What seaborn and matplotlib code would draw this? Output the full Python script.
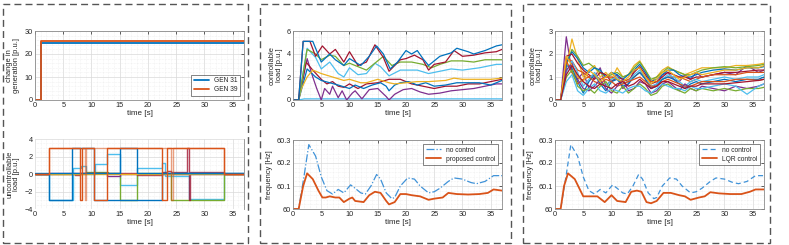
import matplotlib
matplotlib.use("Agg")
import matplotlib.pyplot as plt
import seaborn as sns
from matplotlib.patches import Rectangle

# MATLAB default line colours
BLUE = "#0072BD"
ORANGE = "#D95319"
YELLOW = "#EDB120"
PURPLE = "#7E2F8E"
GREEN = "#77AC30"
LBLUE = "#4DBEEE"
RED = "#A2142F"
NC_BLUE = "#3F92D8"

# ---- panel 1 top: change in generation
gen_t = [0, 1, 37]
gen31 = [0, 24.8, 24.8]
gen39 = [0, 25.7, 25.7]

# ---- panel 1 bottom: uncontrollable load (step signals)
unc_orange_t = [0, 2.5, 8.0, 8.3, 10.5, 12.75, 22.5, 23.4, 33.4, 37]
unc_orange_v = [0, 3, -3, 3, -3, 3, -3, 3, 0, 0]
unc_salmon_t = [0, 2.5, 8.9, 9.1, 24.1, 24.4, 33.4, 37]
unc_salmon_v = [0.05, 3, -3, 3, -3, 3, 0.05, 0.05]
unc_blue_t = [0, 2.5, 6.6, 10.5, 18.0, 22.5, 37]
unc_blue_v = [0, -3, 3, -3, -3, 0.1, 0.1]
unc_blue2_t = [0, 15.1, 18.0, 37]
unc_blue2_v = [0.1, 3, 0.1, 0.1]
unc_lblue_t = [0, 2.4, 6.8, 8.1, 9.0, 10.6, 12.75, 15.1, 18.0, 22.5, 23.1, 27.2, 33.4, 37]
unc_lblue_v = [0, -3, 0.7, 0.9, 0.0, 1.2, 2.3, -1.3, 0.7, 1.3, -0.2, -2.8, 0, 0]
unc_green_t = [0, 9.0, 13.0, 15.1, 18.0, 23.4, 24.1, 33.4, 37]
unc_green_v = [0, 0.2, 0.1, -3, 0.1, 0.05, -3, 0, 0]
unc_purple_t = [0, 2.5, 7.0, 12.75, 15.1, 37]
unc_purple_v = [0, 0.15, 0.1, -0.2, 0.05, 0.05]
unc_red_t = [0, 7.0, 8.0, 18.0, 22.5, 23.4, 24.1, 26.9, 27.3, 27.4, 33.4, 37]
unc_red_v = [0, -0.1, 0.1, -0.1, 0.2, 0.4, 0.25, 3, -3, 0.2, 0, 0]
unc_yellow_t = [0, 2.5, 33.4, 37]
unc_yellow_v = [0, 0.05, 0, 0]

# ---- panel 2 top: controllable load, proposed control
ctl_blue_t = [0, 1, 1.8, 3.5, 5, 6.5, 7.5, 9, 10, 12, 13.5, 14.8, 16, 17.2, 18.5, 20, 21, 22, 23, 24,
              25, 26, 28, 29, 31, 32, 34, 36, 37]
ctl_blue_v = [0, 0, 5.1, 5.1, 3.3, 4.0, 3.5, 3.0, 3.6, 3.0, 3.8, 4.7, 4.0, 2.7, 3.3, 4.3, 4.0, 4.3, 3.6, 3.0,
              3.4, 3.8, 4.1, 4.5, 4.2, 4.0, 4.3, 4.7, 4.8]
ctl_red_t = [0, 1, 1.8, 3, 4, 5.2, 6.5, 7.5, 9, 10, 11.5, 13, 14.5, 16, 17, 18, 19, 20, 21.5, 23,
             24, 25, 27, 28.5, 30, 32, 34, 36, 37]
ctl_red_v = [0, 0, 5.1, 5.1, 3.8, 4.7, 4.0, 4.4, 3.3, 4.2, 3.0, 3.3, 4.8, 3.7, 2.5, 3.0, 3.5, 3.6, 3.9, 3.5,
             2.6, 3.1, 3.3, 4.3, 3.8, 3.9, 4.1, 4.2, 4.4]
ctl_green_t = [0, 1, 2.5, 4, 5, 6.5, 7.5, 9, 10, 12, 13, 15, 16, 17.5, 19, 21, 23, 24.5, 26, 28, 30, 32, 34, 37]
ctl_green_v = [0, 0, 4.4, 4.0, 3.5, 3.9, 3.8, 3.0, 3.2, 2.8, 2.6, 3.4, 3.8, 3.0, 3.3, 3.3, 3.1, 2.8, 3.1, 3.4,
               3.4, 3.3, 3.5, 3.5]
ctl_lblue_t = [0, 1, 2.5, 4, 5, 6.5, 8, 9, 10, 11.5, 13, 14.5, 15.5, 17, 19, 22, 24, 26, 28, 30, 33, 36, 37]
ctl_lblue_v = [0, 0, 4.5, 3.7, 2.7, 3.3, 2.3, 2.0, 2.8, 2.2, 2.3, 3.2, 2.9, 2.1, 2.6, 2.6, 2.3, 2.5, 2.7, 2.6,
               2.8, 3.1, 3.1]
ctl_yellow_t = [0, 1, 1.5, 2.5, 3.5, 5, 7, 9, 10, 12, 13, 15, 17, 18, 20, 22, 24, 27, 28.5, 30, 33, 35, 37]
ctl_yellow_v = [0, 0, 1.0, 2.0, 2.6, 2.3, 2.0, 1.7, 1.8, 1.5, 1.5, 1.8, 1.5, 1.4, 1.5, 1.6, 1.6, 1.7, 1.9, 1.8,
                1.8, 1.8, 1.9]
ctl_blue2_t = [0, 1, 2.5, 4, 5, 6.5, 8, 10, 11, 12.5, 14, 15.5, 16.5, 17, 18, 19, 20.5, 22, 23.5, 25,
               27, 29, 31, 33, 35, 37]
ctl_blue2_v = [0, 0, 2.7, 2.0, 1.7, 1.5, 1.3, 1.0, 1.3, 1.0, 1.3, 1.5, 1.2, 0.8, 1.3, 1.5, 1.6, 1.3, 1.5, 1.2,
               1.3, 1.5, 1.5, 1.5, 1.3, 1.7]
ctl_red2_t = [0, 1, 2.3, 3.5, 5, 6, 7, 8, 9, 10, 11.5, 13, 15, 17, 19, 21, 23, 25, 27, 29, 31, 33, 35, 37]
ctl_red2_v = [0, 0, 3.3, 2.6, 1.8, 1.4, 1.6, 1.2, 1.1, 1.4, 1.0, 1.4, 1.5, 1.8, 1.8, 1.4, 1.2, 1.0, 1.2, 1.2,
              1.4, 1.4, 1.6, 1.8]
ctl_purple_t = [0, 1, 2.5, 3.5, 4.2, 5, 5.6, 6.5, 7, 8, 8.7, 9.5, 10.5, 11, 12.2, 13.5, 15, 16.5, 17, 18,
                19.5, 21, 22.5, 24, 26, 28, 30, 32, 34, 36, 37]
ctl_purple_v = [0, 0, 3.6, 2.0, 1.0, 0.0, 1.0, 0.5, 1.2, 0.2, 0.8, 0.0, 0.6, 0.8, 0.1, 0.9, 1.0, 0.3, 0.0, 0.5,
                0.9, 1.0, 0.7, 0.5, 0.6, 0.8, 0.9, 1.0, 1.2, 1.4, 1.4]
ctl_flat_t = [0, 1, 2, 37]
ctl_lblue_flat = [0, 0, 0.1, 0.1]
ctl_purple_flat = [0, 0, 0, 0]

# ---- frequency, no control / proposed / LQR
f_nc_t = [0, 1, 2, 2.8, 4, 5, 6, 7, 8, 9, 10.2, 11, 12, 12.8, 13.8, 14.8, 15.5, 16.5, 17.5, 18,
          19, 20.3, 21.5, 22.5, 24, 25, 26, 27.5, 28.5, 30, 31.5, 32.5, 34, 35.5, 37]
f_nc_v = [60, 60, 60.15, 60.28, 60.23, 60.14, 60.08, 60.065, 60.085, 60.07, 60.105, 60.09, 60.07, 60.065,
          60.1, 60.15, 60.13, 60.07, 60.045, 60.05, 60.1, 60.135, 60.13, 60.1, 60.07, 60.075, 60.09, 60.12,
          60.135, 60.13, 60.115, 60.11, 60.12, 60.145, 60.145]
f_pc_t = [0, 1, 1.8, 2.5, 3.5, 4.5, 5.2, 5.8, 6.5, 7.5, 8.2, 9, 10, 10.5, 11, 12.5, 13.5, 14.5, 15.5, 16.5,
          17, 18, 19, 20, 21, 22.5, 24, 25, 26.5, 27.5, 29, 31, 33, 34.5, 35.5, 37]
f_pc_v = [60, 60, 60.1, 60.155, 60.13, 60.08, 60.05, 60.05, 60.055, 60.05, 60.05, 60.03, 60.045, 60.05,
          60.035, 60.03, 60.06, 60.075, 60.07, 60.035, 60.02, 60.03, 60.065, 60.065, 60.06, 60.055, 60.04,
          60.045, 60.05, 60.07, 60.065, 60.063, 60.065, 60.07, 60.085, 60.08]
f_lqr_t = [0, 1, 1.6, 2.3, 3.5, 4.5, 5, 7.5, 8.8, 10, 11, 12.5, 13.5, 14.5, 15.3, 16.2, 17, 18, 19.2, 20.5,
           22, 23, 24, 25.5, 26.5, 27.5, 29, 31, 33, 34.5, 35.5, 37]
f_lqr_v = [60, 60, 60.1, 60.155, 60.13, 60.08, 60.055, 60.055, 60.03, 60.06, 60.035, 60.03, 60.075, 60.08,
           60.075, 60.03, 60.025, 60.035, 60.07, 60.07, 60.06, 60.055, 60.04, 60.05, 60.055, 60.073, 60.068,
           60.065, 60.065, 60.075, 60.085, 60.085]

# ---- panel 3 top: controllable load, LQR control
lqr_t = [0, 1, 2, 3, 4, 5, 6, 7, 8, 9, 10, 11, 12, 13, 14, 15, 16, 17, 18, 19, 20, 21, 22, 23, 24, 25, 26,
         28, 30, 32, 34, 36, 37]
lqr_1 = [0, 0, 2.75, 1.2, 0.9, 1.2, 0.5, 1.0, 1.4, 0.6, 0.9, 1.1, 0.5, 0.7, 1.3, 1.4, 0.9, 0.5, 0.7, 1.1,
         1.2, 0.9, 0.8, 1.1, 0.9, 1.2, 1.0, 1.1, 1.2, 1.1, 1.5, 1.2, 1.3]
lqr_2 = [0, 0, 1.4, 2.65, 1.8, 1.0, 1.3, 1.5, 1.0, 1.2, 0.9, 1.4, 1.0, 1.1, 1.5, 1.7, 1.3, 0.8, 1.0, 1.3,
         1.45, 1.3, 1.2, 1.1, 1.2, 1.3, 1.4, 1.4, 1.4, 1.5, 1.5, 1.55, 1.6]
lqr_3 = [0, 0, 1.5, 2.2, 1.9, 1.5, 1.6, 1.4, 1.2, 1.0, 1.1, 1.2, 1.0, 1.1, 1.4, 1.65, 1.3, 0.9, 1.0, 1.2,
         1.4, 1.3, 1.2, 1.1, 1.1, 1.2, 1.3, 1.4, 1.45, 1.4, 1.45, 1.5, 1.55]
lqr_4 = [0, 0, 1.6, 2.1, 1.8, 1.4, 1.2, 1.4, 1.3, 1.0, 1.2, 1.1, 0.9, 1.1, 1.3, 1.55, 1.2, 0.8, 0.9, 1.1,
         1.3, 1.3, 1.1, 1.0, 1.0, 1.1, 1.2, 1.3, 1.35, 1.3, 1.4, 1.4, 1.45]
lqr_5 = [0, 0, 1.9, 2.0, 1.6, 1.3, 1.1, 0.9, 1.2, 1.1, 0.8, 1.0, 0.9, 0.8, 1.2, 1.45, 1.1, 0.7, 0.8, 1.0,
         1.2, 1.1, 1.0, 1.0, 0.9, 1.0, 1.0, 1.1, 1.2, 1.2, 1.25, 1.3, 1.3]
lqr_6 = [0, 0, 1.8, 1.7, 1.3, 1.2, 1.0, 1.1, 0.9, 1.0, 1.0, 0.9, 0.8, 0.9, 1.0, 1.2, 1.0, 0.8, 0.8, 0.9,
         1.0, 1.0, 1.0, 0.9, 0.8, 0.9, 1.0, 1.1, 1.1, 1.1, 1.2, 1.2, 1.2]
lqr_7 = [0, 0, 1.2, 1.7, 1.2, 0.6, 0.9, 1.2, 0.8, 0.6, 0.9, 1.0, 0.7, 0.8, 1.1, 1.3, 1.0, 0.6, 0.7, 0.9,
         1.1, 1.0, 0.8, 0.6, 0.8, 0.9, 0.8, 0.9, 1.0, 0.9, 1.0, 1.0, 1.1]
lqr_8 = [0, 0, 1.5, 1.4, 0.8, 0.3, 0.8, 1.1, 0.7, 0.4, 0.8, 0.9, 0.6, 0.7, 1.0, 1.2, 0.9, 0.5, 0.6, 0.9,
         1.0, 0.9, 0.7, 0.5, 0.7, 0.8, 0.7, 0.8, 0.9, 0.8, 0.9, 0.9, 1.0]
lqr_9 = [0, 0, 1.7, 1.2, 0.7, 0.9, 1.0, 0.8, 0.7, 0.9, 0.8, 0.6, 0.7, 0.8, 0.9, 1.0, 0.8, 0.6, 0.6, 0.8,
         0.9, 0.8, 0.7, 0.6, 0.6, 0.7, 0.8, 0.8, 0.8, 0.9, 0.9, 0.85, 0.9]
lqr_10 = [0, 0, 1.3, 1.6, 0.9, 0.5, 0.4, 0.6, 0.9, 0.5, 0.3, 0.6, 0.9, 0.4, 0.5, 0.8, 0.7, 0.3, 0.4, 0.7,
          0.8, 0.6, 0.4, 0.7, 0.5, 0.4, 0.6, 0.5, 0.4, 0.6, 0.5, 0.6, 0.7]
lqr_11 = [0, 0, 1.0, 1.3, 0.6, 0.4, 0.5, 0.3, 0.6, 0.8, 0.4, 0.3, 0.6, 0.3, 0.5, 0.7, 0.5, 0.2, 0.3, 0.6,
          0.7, 0.5, 0.4, 0.3, 0.5, 0.4, 0.5, 0.4, 0.5, 0.4, 0.5, 0.5, 0.55]
lqr_12 = [0, 0, 0.8, 1.1, 0.4, 0.2, 0.5, 0.7, 0.4, 0.3, 0.5, 0.4, 0.3, 0.5, 0.6, 0.6, 0.4, 0.3, 0.5, 0.7,
          0.6, 0.5, 0.5, 0.4, 0.6, 0.5, 0.5, 0.6, 0.7, 0.6, 0.25, 0.6, 0.7]
lqr_13 = [0, 0, 1.9, 1.5, 1.0, 0.8, 1.3, 1.1, 0.8, 1.0, 1.2, 0.9, 0.8, 1.0, 1.3, 1.4, 1.0, 0.7, 0.9, 1.2,
          1.3, 1.1, 0.9, 1.0, 1.1, 1.2, 1.1, 1.2, 1.3, 1.3, 1.4, 1.4, 1.5]
lqr_14 = [0, 0, 1.1, 1.5, 1.1, 0.8, 0.6, 0.5, 0.7, 0.6, 0.5, 0.7, 0.8, 0.6, 0.7, 0.9, 0.7, 0.5, 0.6, 0.8,
          0.8, 0.7, 0.6, 0.5, 0.6, 0.6, 0.7, 0.7, 0.7, 0.75, 0.8, 0.85, 0.9]

W, H = 789, 245
TICK_FS = 5.3
XLABEL_FS = 5.8
YLABEL_FS = 5.4


def px_axes(fig, left, top, right, bottom):
    """Add axes given pixel edges (top-left origin)."""
    return fig.add_axes([left / W, 1 - bottom / H, (right - left) / W, (bottom - top) / H])


def style_axes(ax, ylim, yticks, ylabel, label_x, yticklabels=None):
    ax.set_xlim(0, 37)
    ax.set_xticks(range(0, 36, 5))
    ax.set_ylim(*ylim)
    ax.set_yticks(yticks)
    if yticklabels is not None:
        ax.set_yticklabels(yticklabels)
    ax.minorticks_on()
    ax.grid(which="major", color="#d9d9d9", lw=0.5)
    ax.grid(which="minor", color="#e6e6e6", lw=0.4, ls=":")
    ax.tick_params(which="major", direction="in", length=2, width=0.5, labelsize=TICK_FS,
                   colors="#262626", top=True, right=True, pad=1.5)
    ax.tick_params(which="minor", length=0)
    for s in ax.spines.values():
        s.set_color("#8c8c8c")
        s.set_linewidth(0.6)
    ax.set_xlabel("time [s]", fontsize=XLABEL_FS, labelpad=1, color="#262626")
    ax.set_ylabel(ylabel, fontsize=YLABEL_FS, color="#262626", linespacing=0.9)
    # right edge of the (rotated) y label, in axes fraction
    ax.yaxis.set_label_coords(label_x, 0.5)
    ax.set_axisbelow(True)


def line(ax, t, v, color, lw=0.9, **kw):
    sns.lineplot(x=t, y=v, ax=ax, color=color, lw=lw, estimator=None, sort=False, **kw)


def small_legend(ax, loc):
    leg = ax.legend(loc=loc, fontsize=4.8, frameon=True, fancybox=False, handlelength=2.2,
                    borderpad=0.4, labelspacing=0.3, borderaxespad=0.6)
    leg.get_frame().set_edgecolor("#262626")
    leg.get_frame().set_linewidth(0.5)


def main():
    sns.set_style("white")
    # Liberation Sans has Helvetica metrics, close to the MATLAB export
    plt.rcParams["font.family"] = ["Liberation Sans", "DejaVu Sans"]
    fig = plt.figure(figsize=(W / 100, H / 100), dpi=100)

    # dashed frames round the three columns
    for x0, x1 in [(3, 248), (260, 511), (523, 770)]:
        fig.patches.append(Rectangle((x0 / W, 1 - 243 / H), (x1 - x0) / W, 239 / H,
                                     transform=fig.transFigure, fill=False, ec="#555555",
                                     lw=1.0, ls=(0, (5, 3))))

    # panel 1 top
    ax = px_axes(fig, 35, 31, 244, 100)
    line(ax, gen_t, gen31, BLUE, lw=1.3, drawstyle="steps-post", label="GEN 31")
    line(ax, gen_t, gen39, ORANGE, lw=1.3, drawstyle="steps-post", label="GEN 39")
    style_axes(ax, (0, 30), [0, 10, 20, 30], "change in\ngeneration [p.u.]", -0.074)
    small_legend(ax, "lower right")

    # panel 1 bottom
    ax = px_axes(fig, 35, 139, 244, 209)
    steps = [
        (unc_lblue_t, unc_lblue_v, LBLUE, 1.0),
        (unc_green_t, unc_green_v, GREEN, 1.0),
        (unc_purple_t, unc_purple_v, PURPLE, 1.0),
        (unc_red_t, unc_red_v, RED, 0.8),
        (unc_yellow_t, unc_yellow_v, YELLOW, 1.0),
        (unc_blue2_t, unc_blue2_v, BLUE, 1.0),
        (unc_blue_t, unc_blue_v, BLUE, 1.0),
        (unc_salmon_t, unc_salmon_v, ORANGE, 0.55),
        (unc_orange_t, unc_orange_v, ORANGE, 1.0),
    ]
    for t, v, c, a in steps:
        line(ax, t, v, c, lw=1.0, alpha=a, drawstyle="steps-post")
    style_axes(ax, (-4, 4), [-4, -2, 0, 2, 4], "uncontrollable\nload [p.u.]", -0.07)
    for side in ["top", "left", "bottom"]:
        ax.spines[side].set_visible(False)
    ax.tick_params(top=False, right=False, left=False, bottom=False)

    # panel 2 top
    ax = px_axes(fig, 293, 31, 502, 100)
    for t, v, c in [
        (ctl_flat_t, ctl_purple_flat, PURPLE),
        (ctl_flat_t, ctl_lblue_flat, LBLUE),
        (ctl_purple_t, ctl_purple_v, PURPLE),
        (ctl_red2_t, ctl_red2_v, RED),
        (ctl_blue2_t, ctl_blue2_v, BLUE),
        (ctl_yellow_t, ctl_yellow_v, YELLOW),
        (ctl_lblue_t, ctl_lblue_v, LBLUE),
        (ctl_green_t, ctl_green_v, GREEN),
        (ctl_red_t, ctl_red_v, RED),
        (ctl_blue_t, ctl_blue_v, BLUE),
    ]:
        line(ax, t, v, c, lw=0.9)
    style_axes(ax, (0, 6), [0, 2, 4, 6], "controllable\nload [p.u.]", -0.05)

    # panel 2 bottom
    ax = px_axes(fig, 293, 140, 502, 209)
    line(ax, f_nc_t, f_nc_v, NC_BLUE, lw=0.9, ls="-.", label="no control")
    line(ax, f_pc_t, f_pc_v, ORANGE, lw=1.3, label="proposed control")
    style_axes(ax, (60, 60.3), [60, 60.1, 60.2, 60.3], "frequency [Hz]", -0.095,
               ["60", "60.1", "60.2", "60.3"])
    small_legend(ax, "upper right")

    # panel 3 top
    ax = px_axes(fig, 555, 31, 764, 100)
    lqr_lines = [
        (lqr_1, PURPLE), (lqr_2, YELLOW), (lqr_3, GREEN), (lqr_4, BLUE), (lqr_5, RED),
        (lqr_6, ORANGE), (lqr_7, LBLUE), (lqr_8, BLUE), (lqr_9, ORANGE), (lqr_10, PURPLE),
        (lqr_11, GREEN), (lqr_12, LBLUE), (lqr_13, YELLOW), (lqr_14, RED),
    ]
    for v, c in lqr_lines:
        line(ax, lqr_t, v, c, lw=0.9)
    style_axes(ax, (0, 3), [0, 1, 2, 3], "controllable\nload [p.u.]", -0.058)

    # panel 3 bottom
    ax = px_axes(fig, 555, 140, 764, 209)
    line(ax, f_nc_t, f_nc_v, NC_BLUE, lw=0.9, ls=(0, (4, 2.5)), label="no control")
    line(ax, f_lqr_t, f_lqr_v, ORANGE, lw=1.3, label="LQR control")
    style_axes(ax, (60, 60.3), [60, 60.1, 60.2, 60.3], "frequency [Hz]", -0.1,
               ["60", "60.1", "60.2", "60.3"])
    small_legend(ax, "upper right")

    fig.savefig("out.png", dpi=100)
    plt.close(fig)


if __name__ == "__main__":
    main()
